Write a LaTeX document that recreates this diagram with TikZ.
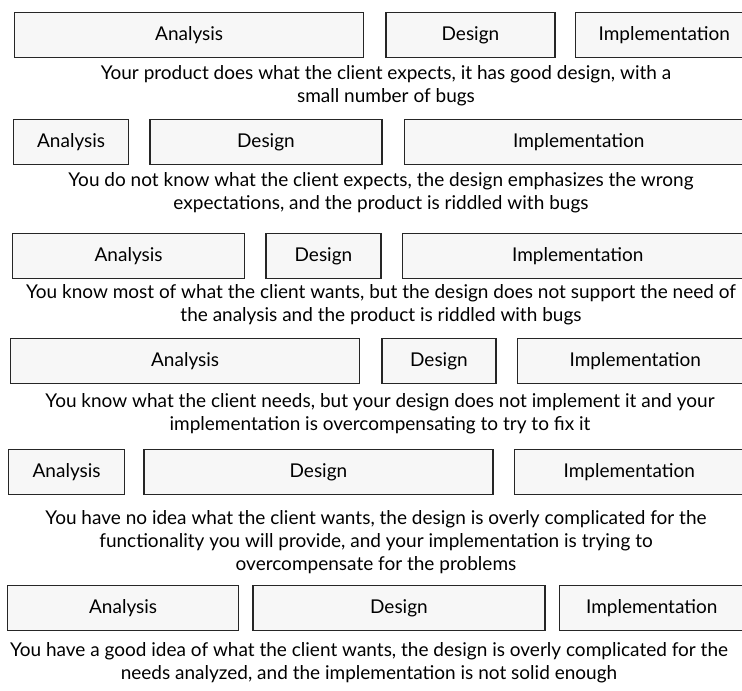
\documentclass[tikz,border=0pt]{standalone}
\usepackage{fontspec}
\setmainfont{Lato}
\usepackage{tikz}
\usetikzlibrary{positioning}
\tikzstyle{phase} = [rectangle, draw=black!85, line width=1.3pt, fill=black!3, text=black, text centered, minimum height=45pt, inner sep=0pt, font=\fontsize{19}{22}\selectfont]
\tikzstyle{verdict} = [text=black, align=center, inner sep=0pt, font=\fontsize{19}{23}\selectfont]

\begin{document}
\begin{tikzpicture}[x=1pt, y=-1pt]
\useasboundingbox (0,0) rectangle (742,691);

% row 1 =============================
\node[phase, minimum width=349pt, anchor=west] (a1) at (14,35) {Analysis};
\node[phase, minimum width=169pt, right=21pt of a1] (d1) {Design};
\node[phase, minimum width=178pt, right=19pt of d1] (i1) {Implementation};
\node[verdict] (v1) at (386,85.5) {Your product does what the client expects, it has good design, with a\\small number of bugs};

% row 2 =============================
\node[phase, minimum width=115pt, anchor=west] (a2) at (13,142) {Analysis};
\node[phase, minimum width=232pt, right=20pt of a2] (d2) {Design};
\node[phase, minimum width=349pt, right=21pt of d2] (i2) {Implementation};
\node[verdict] (v2) at (381,193) {You do not know what the client expects, the design emphasizes the wrong\\expectations, and the product is riddled with bugs};

% row 3 =============================
\node[phase, minimum width=232pt, anchor=west] (a3) at (12,256) {Analysis};
\node[phase, minimum width=115pt, right=20pt of a3] (d3) {Design};
\node[phase, minimum width=351pt, right=20pt of d3] (i3) {Implementation};
\node[verdict] (v3) at (381,304.5) {You know most of what the client wants, but the design does not support the need of\\the analysis and the product is riddled with bugs};

% row 4 =============================
\node[phase, minimum width=349pt, anchor=west] (a4) at (10,361) {Analysis};
\node[phase, minimum width=114pt, right=21pt of a4] (d4) {Design};
\node[phase, minimum width=236pt, right=20pt of d4] (i4) {Implementation};
\node[verdict] (v4) at (380,413.5) {You know what the client needs, but your design does not implement it and your\\implementation is overcompensating to try to fix it};

% row 5 =============================
\node[phase, minimum width=116pt, anchor=west] (a5) at (8,472) {Analysis};
\node[phase, minimum width=349pt, right=18pt of a5] (d5) {Design};
\node[phase, minimum width=230pt, right=20pt of d5] (i5) {Implementation};
\node[verdict] (v5) at (376,542) {You have no idea what the client wants, the design is overly complicated for the\\functionality you will provide, and your implementation is trying to\\overcompensate for the problems};

% row 6 =============================
\node[phase, minimum width=231pt, anchor=west] (a6) at (7,608) {Analysis};
\node[phase, minimum width=292pt, right=13pt of a6] (d6) {Design};
\node[phase, minimum width=185pt, right=13pt of d6] (i6) {Implementation};
\node[verdict] (v6) at (369,662.5) {You have a good idea of what the client wants, the design is overly complicated for the\\needs analyzed, and the implementation is not solid enough};

\end{tikzpicture}
\end{document}
